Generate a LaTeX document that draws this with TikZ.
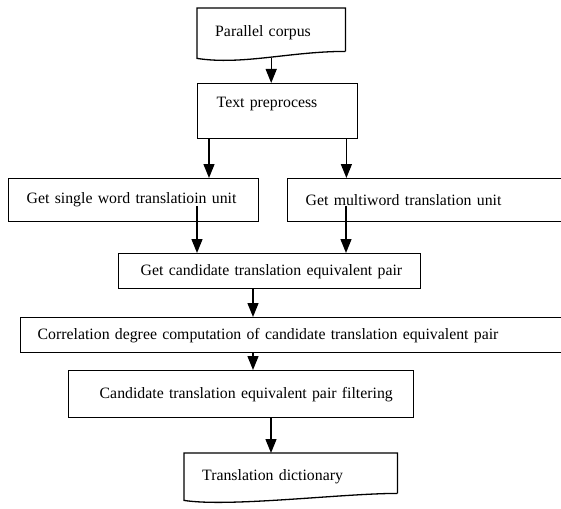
\documentclass[tikz,border=0pt]{standalone}
\usepackage{fontspec}
\setmainfont{Liberation Serif}
\usetikzlibrary{arrows.meta}
\newcommand{\drawdoc}[1]{\draw[line width=1.3pt] ([yshift=7pt]#1.south east) -- (#1.north east) -- (#1.north west) -- (#1.south west) .. controls +(45pt,-7pt) and +(-55pt,0pt) .. ([yshift=7pt]#1.south east);}

\begin{document}
\begin{tikzpicture}[x=1pt, y=-1pt, every node/.style={font=\fontsize{15.8}{19}\selectfont},
  box/.style={draw, line width=1.4pt, anchor=north west, inner xsep=0pt, align=left},
  doc/.style={anchor=north west, inner xsep=0pt, align=left},
  textin/.style={execute at begin node={\hspace*{#1}}},
  flow/.style={line width=1.4pt, -{Triangle[width=11pt,length=14pt]}}]
\useasboundingbox (0,0) rectangle (561,508);
%document shapes and process boxes
\node[doc, text width=148pt, minimum height=50pt, textin=18pt] (corpus) at (197,8) {Parallel corpus};
\drawdoc{corpus}
\node[box, text width=160pt, minimum height=55pt, textin=19pt, text height=11pt, text depth=18pt] (prep) at (197,83) {Text preprocess};
\node[box, text width=250pt, minimum height=43pt, textin=18pt] (single) at (8,178) {Get single word translatioin unit};
\node[box, text width=278pt, minimum height=43pt, textin=18pt] (multi) at (287,178) {Get multiword translation unit};
\node[box, text width=302pt, minimum height=35pt, textin=22pt] (cand) at (118,253) {Get candidate translation equivalent pair};
\node[box, text width=545pt, minimum height=35pt, textin=17pt] (corr) at (20,317) {Correlation degree computation of candidate translation equivalent pair};
\node[box, text width=345pt, minimum height=47pt, textin=31pt] (filt) at (68,370) {Candidate translation equivalent pair filtering};
\node[doc, text width=213pt, minimum height=47pt, textin=18pt] (dict) at (184,453) {Translation dictionary};
\drawdoc{dict}

%arrow start points
\coordinate (a2) at ([xshift=12pt]prep.south west);
\coordinate (a3) at ([xshift=-12pt]prep.south east);
\coordinate (a4) at ([xshift=189pt,yshift=16pt]single.south west);
\coordinate (a5) at ([xshift=59pt,yshift=16pt]multi.south west);
\coordinate (a6) at ([xshift=135pt]cand.south west);
\coordinate (a8) at ([xshift=203pt]filt.south west);

\draw[flow] (corpus.south) -- (corpus.south |- prep.north);
\draw[flow] (a2) -- (a2 |- single.north);
\draw[flow] (a3) -- (a3 |- multi.north);
\draw[flow] (a4) -- (a4 |- cand.north);
\draw[flow] (a5) -- (a5 |- cand.north);
\draw[flow] (a6) -- (a6 |- corr.north);
\draw[flow] (a6 |- corr.south) -- (a6 |- filt.north);
\draw[flow] (a8) -- (a8 |- dict.north);

\end{tikzpicture}
\end{document}
